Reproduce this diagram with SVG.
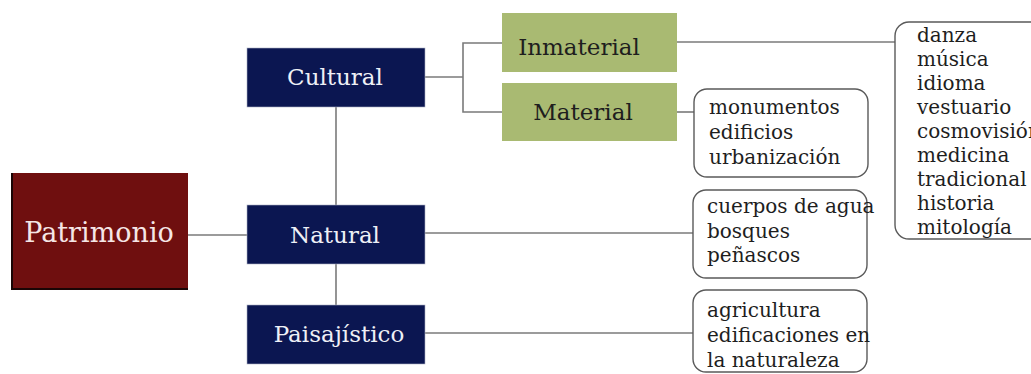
<svg xmlns="http://www.w3.org/2000/svg" width="1031" height="374" viewBox="0 0 1031 374">
<style>
.conn{stroke:#7a7a7a;stroke-width:1.6;fill:none}
.navy{fill:#0b1651;stroke:#aab0c4;stroke-width:0.6}
.green{fill:#a9ba72}
.list{fill:#ffffff;stroke:#5a5a5a;stroke-width:1.4}
.t{font-family:"DejaVu Serif","Liberation Serif",serif}
.wt{fill:#eef0f6;font-size:23px}
.dt{fill:#1e1e1e;font-size:23px}
.lt{fill:#1e1e1e;font-size:20px}
</style>
<rect width="1031" height="374" fill="#ffffff"/>
<g id="connectors">
<line class="conn" x1="188" y1="235" x2="247" y2="235"/>
<line class="conn" x1="336" y1="107" x2="336" y2="205"/>
<line class="conn" x1="336" y1="264" x2="336" y2="305"/>
<polyline class="conn" points="425,77 463,77"/>
<polyline class="conn" points="502,43 463,43 463,112 502,112"/>
<line class="conn" x1="677" y1="42" x2="895" y2="42"/>
<line class="conn" x1="677" y1="112" x2="694" y2="112"/>
<line class="conn" x1="425" y1="233" x2="693" y2="233"/>
<line class="conn" x1="425" y1="333" x2="693" y2="333"/>
</g>
<g id="patrimonio">
<rect x="11" y="173" width="177" height="117" fill="#1a0505"/>
<rect x="13" y="173" width="175" height="115" fill="#6f0f0f"/>
<text class="t" x="99" y="242" text-anchor="middle" font-size="27" fill="#f5e6e6">Patrimonio</text>
</g>
<g id="cultural">
<rect class="navy" x="247" y="48" width="178" height="59"/>
<text class="t wt" x="335" y="85" text-anchor="middle">Cultural</text>
</g>
<g id="natural">
<rect class="navy" x="247" y="205" width="178" height="59"/>
<text class="t wt" x="335" y="243" text-anchor="middle">Natural</text>
</g>
<g id="paisajistico">
<rect class="navy" x="247" y="305" width="178" height="59"/>
<text class="t wt" x="339" y="342" text-anchor="middle">Paisajístico</text>
</g>
<g id="inmaterial">
<rect class="green" x="502" y="13" width="175" height="59"/>
<text class="t dt" x="579" y="55" text-anchor="middle">Inmaterial</text>
</g>
<g id="material">
<rect class="green" x="502" y="83" width="175" height="58"/>
<text class="t dt" x="583" y="120" text-anchor="middle">Material</text>
</g>
<g id="lista-material">
<rect class="list" x="694" y="89" width="174" height="88" rx="13"/>
<text class="t lt" x="709" y="114">monumentos</text>
<text class="t lt" x="709" y="139">edificios</text>
<text class="t lt" x="709" y="164">urbanización</text>
</g>
<g id="lista-natural">
<rect class="list" x="693" y="190" width="174" height="88" rx="13"/>
<text class="t lt" x="707" y="213">cuerpos de agua</text>
<text class="t lt" x="707" y="238">bosques</text>
<text class="t lt" x="707" y="262">peñascos</text>
</g>
<g id="lista-paisajistico">
<rect class="list" x="693" y="290" width="174" height="82" rx="13"/>
<text class="t lt" x="707" y="317">agricultura</text>
<text class="t lt" x="707" y="342">edificaciones en</text>
<text class="t lt" x="707" y="367">la naturaleza</text>
</g>
<g id="lista-inmaterial">
<rect class="list" x="895" y="22" width="170" height="217" rx="14"/>
<text class="t lt" x="917" y="42">danza</text>
<text class="t lt" x="917" y="66">música</text>
<text class="t lt" x="917" y="90">idioma</text>
<text class="t lt" x="917" y="114">vestuario</text>
<text class="t lt" x="917" y="138">cosmovisión</text>
<text class="t lt" x="917" y="162">medicina</text>
<text class="t lt" x="917" y="186">tradicional</text>
<text class="t lt" x="917" y="210">historia</text>
<text class="t lt" x="917" y="234">mitología</text>
</g>
</svg>
